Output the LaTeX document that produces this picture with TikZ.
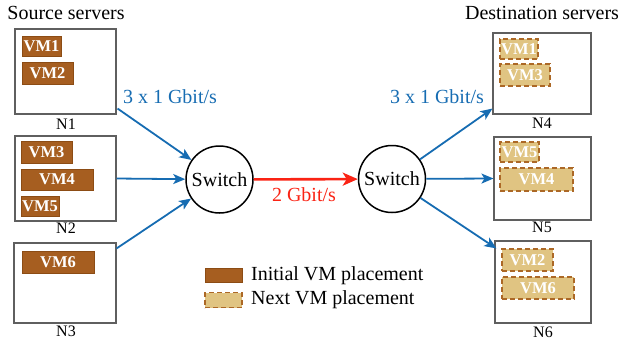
\documentclass[tikz,border=0pt]{standalone}
\usepackage{fontspec}
\setmainfont{Liberation Serif}
\usetikzlibrary{arrows.meta}
\definecolor{vmdark}{RGB}{166,94,32}
\definecolor{vmdarkline}{RGB}{140,76,20}
\definecolor{vmlight}{RGB}{224,196,130}
\definecolor{vmlightline}{RGB}{172,104,38}
\definecolor{linkblue}{RGB}{22,108,178}
\definecolor{linkred}{RGB}{250,35,20}
\definecolor{boxgray}{RGB}{95,95,95}
\tikzset{
  server/.style={draw=boxgray, line width=1.1pt, fill=white, inner sep=0pt},
  vmold/.style={draw=vmdarkline, line width=0.9pt, fill=vmdark, inner sep=0pt,
    text=white, font=\fontsize{16.5}{16.5}\selectfont\bfseries},
  vmnew/.style={draw=vmlightline, line width=1.6pt, dash pattern=on 5pt off 3pt,
    fill=vmlight, inner sep=0pt, text=white, font=\fontsize{16.5}{16.5}\selectfont\bfseries},
  switchnode/.style={circle, draw=black, line width=1.5pt, minimum size=67pt,
    inner sep=0pt, font=\fontsize{20}{20}\selectfont},
  srvlabel/.style={font=\fontsize{16}{16}\selectfont, inner sep=0pt},
  bigtext/.style={font=\fontsize{20}{20}\selectfont, inner sep=0pt},
  bluelink/.style={draw=linkblue, line width=1.8pt,
    -{Stealth[length=12pt,width=10pt,inset=3pt]}},
  redlink/.style={draw=linkred, line width=2.6pt,
    -{Stealth[length=15pt,width=13pt,inset=4pt]}},
}
\begin{document}
\begin{tikzpicture}[x=1pt,y=-1pt]
\useasboundingbox (0,0) rectangle (621,341);

% titles
\node[bigtext] (srctitle) at (66,13) {Source servers};
\node[bigtext] (dsttitle) at (542,13) {Destination servers};

% source servers
\node[server, minimum width=101pt, minimum height=85pt] (n1) at (65.5,71.5) {};
\node[server, minimum width=101pt, minimum height=85pt] (n2) at (65.5,178.5) {};
\node[server, minimum width=102pt, minimum height=80pt] (n3) at (65,283) {};
\node[srvlabel] (n1l) at (66,124) {N1};
\node[srvlabel] (n2l) at (66,228) {N2};
\node[srvlabel] (n3l) at (66,331) {N3};

\node[vmold, minimum width=39pt, minimum height=20pt] (s1) at (41.5,46) {VM1};
\node[vmold, minimum width=51pt, minimum height=22pt] (s2) at (47.5,73) {VM2};
\node[vmold, minimum width=51pt, minimum height=22pt] (s3) at (46.5,152) {VM3};
\node[vmold, minimum width=72pt, minimum height=21pt] (s4) at (57,179.5) {VM4};
\node[vmold, minimum width=38pt, minimum height=20pt] (s5) at (40,206) {VM5};
\node[vmold, minimum width=72pt, minimum height=22pt] (s6) at (58,262) {VM6};

% destination servers
\node[server, minimum width=98pt, minimum height=81pt] (n4) at (542,73.5) {};
\node[server, minimum width=97pt, minimum height=83pt] (n5) at (542.5,178.5) {};
\node[server, minimum width=96pt, minimum height=82pt] (n6) at (543,282) {};
\node[srvlabel] (n4l) at (542,123) {N4};
\node[srvlabel] (n5l) at (542,227) {N5};
\node[srvlabel] (n6l) at (543,332) {N6};

\node[vmnew, minimum width=38pt, minimum height=20pt] (d1) at (519,49) {VM1};
\node[vmnew, minimum width=50pt, minimum height=22pt] (d3) at (525,75) {VM3};
\node[vmnew, minimum width=39pt, minimum height=20pt] (d5) at (519.5,152) {VM5};
\node[vmnew, minimum width=73pt, minimum height=23pt] (d4) at (536.5,179.5) {VM4};
\node[vmnew, minimum width=51pt, minimum height=22pt] (d2) at (527.5,260) {VM2};
\node[vmnew, minimum width=72pt, minimum height=22pt] (d6) at (538,288) {VM6};

% switches
\node[switchnode] (sw1) at (219.5,179.5) {Switch};
\node[switchnode] (sw2) at (392,179) {Switch};

% links
\draw[bluelink] ([xshift=1pt,yshift=6pt]n1.south east) -- (sw1);
\draw[bluelink] (n2.east) -- (sw1);
\draw[bluelink] ([yshift=-6pt]n3.north east) -- (sw1);
\draw[redlink] (sw1) -- (sw2);
\draw[bluelink] (sw2) -- ([yshift=6pt]n4.south west);
\draw[bluelink] (sw2) -- (n5.west);
\draw[bluelink] (sw2) -- ([xshift=2pt,yshift=-8pt]n6.north west);

% link labels
\node[bigtext, text=linkblue] (lab1) at (170,97) {3 x 1 Gbit/s};
\node[bigtext, text=linkblue] (lab2) at (437,97) {3 x 1 Gbit/s};
\node[bigtext, text=linkred] (lab3) at (304,195) {2 Gbit/s};

% legend
\node[vmold, minimum width=37pt, minimum height=14pt] (leg1) at (223.5,275) {};
\node[vmnew, minimum width=37pt, minimum height=15pt] (leg2) at (223.5,300) {};
\node[bigtext, anchor=west] (leg1t) at (251,276) {Initial VM placement};
\node[bigtext, anchor=west] (leg2t) at (251,300) {Next VM placement};
\end{tikzpicture}
\end{document}
